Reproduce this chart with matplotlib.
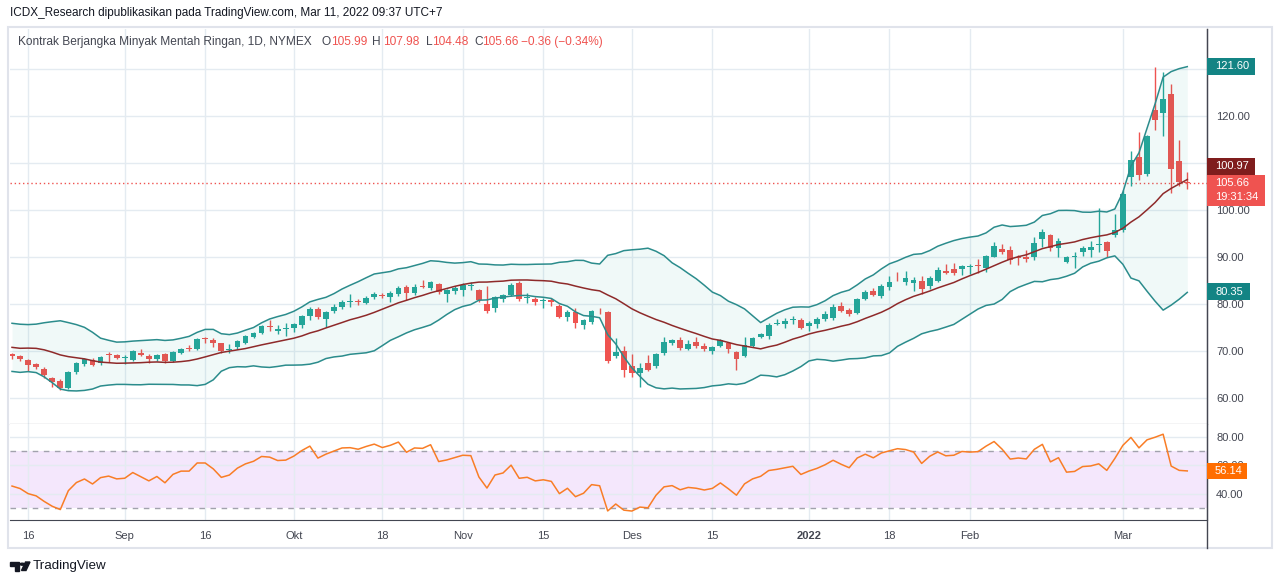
import numpy as np
import pandas as pd
import matplotlib
matplotlib.use("Agg")
import matplotlib.pyplot as plt
from matplotlib.patches import Rectangle, Polygon, Circle
from matplotlib.lines import Line2D

plt.rcParams['font.family'] = ['Liberation Sans', 'DejaVu Sans']

W, H = 1280, 584

# closes before the first visible bar (Jun 1 - Aug 11 2021), only used to seed BB(20) and RSI(14)
prior_close = [67.72, 68.83, 68.81, 69.62, 69.23, 70.05, 69.96, 70.29, 70.91, 70.88,
               72.12, 72.15, 71.04, 71.64, 73.66, 73.06, 73.08, 73.30, 74.05, 72.91,
               72.98, 73.47, 75.23, 75.16, 73.37, 72.20, 72.94, 74.56, 74.10, 75.25,
               73.13, 71.65,
               71.81, 66.42, 67.42, 70.30, 71.91, 72.07, 71.91, 71.65, 72.39, 73.62,
               73.95, 71.26, 70.56, 68.15, 69.09, 68.28, 66.48, 68.29, 69.25]

# daily bars Aug 12 2021 - Mar 11 2022 (CL1!, NYMEX)
open_ = [69.35, 68.85, 68.1, 67.2, 66.2, 64.3, 63.6, 62.1, 65.5, 67.2,
         68.1, 67.5, 69.3, 69.1, 68.45, 68.1, 69.5, 68.9, 68.2, 69.4,
         67.8, 69.6, 70.7, 70.5, 72.7, 72.3, 71.6, 70.3, 70.8, 71.8,
         73.0, 73.9, 75.4, 74.2, 74.7, 74.9, 75.5, 77.4, 78.9, 76.9,
         78.6, 79.4, 80.4, 80.6, 80.3, 81.4, 82.0, 81.4, 82.1, 83.7,
         82.4, 83.65, 83.5, 84.3, 82.1, 82.8, 83.0, 83.9, 83.0, 80.0,
         79.1, 81.0, 81.9, 84.4, 81.2, 81.0, 80.6, 80.85, 79.6, 77.3,
         78.4, 75.5, 76.2, 78.35, 78.4, 69.0, 69.9, 66.8, 65.4, 67.4,
         66.8, 69.5, 71.6, 72.3, 70.4, 71.9, 71.1, 70.0, 71.1, 71.8,
         69.8, 69.0, 71.1, 72.9, 73.1, 75.75, 75.7, 76.6, 76.6, 75.4,
         75.7, 76.8, 77.0, 79.6, 78.7, 78.1, 81.1, 82.8, 81.6, 83.55,
         85.8, 84.75, 84.4, 84.9, 83.9, 85.0, 87.0, 87.4, 87.4, 87.8,
         88.3, 87.6, 90.1, 91.7, 91.5, 89.95, 90.1, 89.9, 93.75, 94.7,
         92.0, 89.0, 90.0, 91.1, 91.5, 92.6, 93.1, 94.7, 95.7, 107.0,
         111.2, 107.7, 121.3, 120.6, 124.7, 110.4, 105.99]
high = [69.6, 69.1, 68.3, 67.5, 66.6, 64.5, 64.0, 65.8, 67.7, 68.6,
        68.5, 68.9, 69.7, 69.3, 69.1, 70.3, 70.4, 69.4, 69.4, 69.6,
        69.9, 70.7, 71.3, 72.8, 73.0, 72.7, 71.8, 71.4, 72.3, 73.5,
        74.1, 75.6, 76.6, 75.6, 75.9, 76.0, 77.7, 79.4, 79.4, 78.6,
        79.9, 80.9, 82.1, 81.0, 81.6, 82.5, 82.4, 82.8, 83.8, 84.0,
        84.2, 85.2, 84.8, 84.5, 83.2, 83.8, 84.5, 84.7, 83.2, 83.9,
        81.6, 82.2, 84.5, 84.9, 82.3, 81.4, 81.2, 81.2, 79.9, 78.7,
        79.1, 76.8, 78.8, 79.1, 78.6, 72.7, 71.1, 69.3, 67.4, 69.1,
        69.6, 73.0, 72.6, 73.0, 72.3, 73.0, 71.6, 71.1, 72.5, 72.0,
        70.0, 72.9, 73.0, 73.8, 76.0, 76.8, 77.0, 77.4, 77.1, 76.3,
        77.2, 78.5, 80.1, 80.5, 79.2, 81.3, 83.0, 83.3, 84.2, 86.0,
        86.9, 87.0, 85.7, 86.0, 86.0, 87.9, 88.6, 88.8, 88.3, 88.6,
        89.5, 90.5, 93.2, 92.8, 92.3, 90.4, 91.5, 94.2, 95.9, 95.0,
        94.0, 90.3, 91.1, 92.3, 93.3, 100.4, 93.5, 99.1, 104.2, 112.6,
        116.7, 116.0, 130.5, 129.4, 126.8, 114.9, 107.98]
low = [68.4, 67.8, 65.7, 66.2, 64.3, 62.4, 61.7, 61.9, 65.2, 66.8,
       66.8, 67.1, 67.6, 68.2, 67.3, 67.8, 68.9, 67.5, 67.9, 67.4,
       67.6, 69.3, 69.9, 70.2, 71.7, 70.9, 69.6, 69.5, 70.5, 71.5,
       72.7, 73.6, 74.3, 73.6, 73.1, 74.1, 75.0, 76.6, 76.9, 75.1,
       78.1, 78.9, 79.4, 79.8, 80.0, 81.1, 81.2, 80.4, 81.6, 80.9,
       82.0, 83.3, 83.0, 82.2, 80.5, 82.2, 81.6, 83.0, 80.4, 78.1,
       78.3, 80.5, 81.7, 80.6, 80.3, 79.8, 79.2, 79.6, 77.0, 76.4,
       75.0, 74.7, 75.8, 77.9, 67.4, 68.6, 64.4, 64.5, 62.4, 65.7,
       66.3, 69.1, 71.3, 70.2, 70.2, 70.6, 70.0, 69.4, 70.8, 69.5,
       66.0, 68.8, 70.8, 72.7, 72.5, 75.5, 75.0, 75.7, 74.7, 74.3,
       75.0, 76.4, 76.6, 78.4, 77.5, 77.8, 80.8, 81.6, 81.2, 83.0,
       84.9, 84.0, 82.8, 82.1, 83.2, 84.7, 86.3, 86.2, 86.2, 86.4,
       86.7, 86.8, 89.9, 90.6, 88.5, 88.3, 89.0, 89.4, 92.2, 91.3,
       90.1, 88.8, 87.6, 90.2, 90.0, 91.1, 90.1, 94.3, 95.3, 105.1,
       106.4, 107.2, 117.0, 115.7, 103.7, 105.2, 104.48]
close = [69.0, 68.4, 67.1, 66.5, 64.9, 63.3, 62.1, 65.6, 67.5, 68.4,
         67.1, 68.7, 69.1, 68.45, 68.6, 69.95, 69.1, 68.2, 69.15, 67.8,
         69.7, 70.5, 70.5, 72.6, 72.6, 71.6, 70.0, 70.5, 72.1, 73.2,
         73.9, 75.3, 75.2, 74.7, 74.8, 75.8, 77.4, 78.9, 77.2, 78.4,
         79.4, 80.5, 80.6, 80.4, 81.3, 82.1, 81.7, 82.4, 83.5, 82.3,
         83.6, 83.55, 84.7, 82.5, 82.9, 83.5, 84.1, 84.05, 80.9, 78.6,
         81.4, 81.9, 84.0, 81.1, 81.35, 80.5, 80.75, 80.4, 77.3, 78.4,
         75.9, 76.6, 78.5, 78.2, 67.9, 69.7, 66.0, 65.4, 66.4, 66.0,
         69.3, 71.9, 72.3, 70.7, 71.4, 71.1, 70.5, 70.9, 72.3, 70.5,
         68.3, 71.3, 72.8, 73.6, 75.5, 75.9, 76.4, 76.9, 75.0, 76.0,
         76.8, 77.9, 79.4, 78.6, 77.9, 81.1, 82.6, 81.9, 83.8, 84.7,
         85.65, 85.5, 85.1, 83.1, 85.5, 87.2, 86.5, 86.7, 88.1, 88.0,
         88.15, 90.2, 92.3, 91.1, 89.4, 89.75, 89.6, 93.0, 95.3, 91.85,
         93.5, 89.9, 90.15, 91.85, 92.06, 92.8, 91.3, 95.7, 103.3, 110.6,
         107.4, 115.7, 119.1, 123.6, 108.7, 106.0, 105.66]

holidays = ['2021-09-06', '2021-11-25', '2021-12-24', '2022-01-17', '2022-02-21']
tick_dates = ['2021-08-16', '2021-09-01', '2021-09-16', '2021-10-01', '2021-10-18',
              '2021-11-01', '2021-11-15', '2021-12-01', '2021-12-15', '2022-01-03',
              '2022-01-18', '2022-02-01', '2022-03-01']
tick_labels = ['16', 'Sep', '16', 'Okt', '18', 'Nov', '15', 'Des', '15', '2022',
               '18', 'Feb', 'Mar']

# values shown in the scale tags
bb_tags = [121.60, 100.97, 80.35]
rsi_tag = 56.14

# ---- indicators
dates = pd.bdate_range('2021-08-12', '2022-03-11')
dates = dates[~dates.isin(pd.to_datetime(holidays))]
tick_pos = [dates.get_loc(pd.Timestamp(d)) for d in tick_dates]

o, h, l, c = map(np.array, (open_, high, low, close))
n_prior = len(prior_close)
all_close = pd.Series(prior_close + close)
basis = all_close.rolling(20).mean()
dev = all_close.rolling(20).std(ddof=0)
upper = (basis + 2 * dev).values[n_prior:]
lower = (basis - 2 * dev).values[n_prior:]
basis = basis.values[n_prior:]

delta = np.diff(all_close.values)
gain = np.clip(delta, 0, None)
loss = np.clip(-delta, 0, None)
ag, al = gain[:14].mean(), loss[:14].mean()
rsi_all = np.full(len(all_close), np.nan)
rsi_all[14] = 100 - 100 / (1 + ag / al)
for k in range(14, len(delta)):
    ag = (ag * 13 + gain[k]) / 14
    al = (al * 13 + loss[k]) / 14
    rsi_all[k + 1] = 100 - 100 / (1 + ag / al)
rsi = rsi_all[n_prior:]

x = np.arange(len(c))

# ---- figure
fig = plt.figure(figsize=(W / 100, H / 100), dpi=100)


def frect(x0, y0, x1, y1):
    return [x0 / W, 1 - y1 / H, (x1 - x0) / W, (y1 - y0) / H]


grid_c = '#e4ebf1'
line_c = '#434651'
text_c = '#434651'
up_c, down_c = '#26a69a', '#ef5350'

ax = fig.add_axes(frect(10, 29, 1207, 424))
rax = fig.add_axes(frect(10, 424, 1207, 520), sharex=ax)
ax_bb = ax.twinx()

ax.set_xlim(-0.25, 148.45)
ax.set_ylim(54.47, 138.51)
ax_bb.set_ylim(56.18, 128.39)
rax.set_ylim(21.75, 89.1)

# candles
cols = np.where(c >= o, up_c, down_c)
ax.vlines(x, l, h, colors=cols, lw=1, zorder=3)
ax.bar(x, np.maximum(np.abs(c - o), 0.2), bottom=np.minimum(o, c), width=0.72,
       color=cols, lw=0, zorder=4)
ax.axhline(c[-1], color=down_c, lw=1, ls=(0, (1, 2)), zorder=2)

# bollinger bands (own overlay scale)
ax_bb.fill_between(x, lower, upper, color='#109a8c', alpha=0.06, lw=0, zorder=1)
ax_bb.plot(x, upper, color='#2b8c8c', lw=1.1, zorder=5)
ax_bb.plot(x, lower, color='#2b8c8c', lw=1.1, zorder=5)
ax_bb.plot(x, basis, color='#8e2a2a', lw=1.1, zorder=5)
ax_bb.axis('off')

# rsi
rax.axhspan(30, 70, color='#f4e7fc', lw=0, zorder=0)
for lvl in (70, 30):
    rax.axhline(lvl, color='#a2a2ad', lw=1, ls=(0, (4, 4)), zorder=1)
rax.plot(x, rsi, color='#f97d26', lw=1.1, zorder=3)

# axes styling
price_ticks = np.arange(60, 131, 10)
ax.set_yticks(price_ticks)
# the 130 level sits under the upper-band tag
ax.set_yticklabels(['%.2f' % v if v < 130 else '' for v in price_ticks])
rax.set_yticks([40, 60, 80])
rax.set_yticklabels(['40.00', '60.00', '80.00'])
rax.set_xticks(tick_pos)
rax.set_xticklabels(tick_labels)
for t in rax.get_xticklabels():
    if t.get_text() == '2022':
        t.set_fontweight('bold')

for a in (ax, rax):
    a.yaxis.tick_right()
    a.grid(True, color=grid_c, lw=1, zorder=0)
    a.set_axisbelow(True)
    a.tick_params(axis='y', length=0, pad=6.5, labelsize=8, labelcolor=text_c)
    a.tick_params(axis='x', length=0, pad=8, labelsize=8, labelcolor=text_c)
    a.spines['left'].set_visible(False)
    a.spines['top'].set_visible(False)
    a.spines['right'].set_color(line_c)
    a.spines['bottom'].set_color(line_c)
ax.tick_params(labelbottom=False)

# frame and price-scale separator
fig.add_artist(Rectangle((8 / W, 1 - 548 / H), 1264 / W, 521 / H, transform=fig.transFigure,
                         fill=False, ec='#e0e3eb', lw=1.5, zorder=1))
fig.add_artist(Line2D([1207 / W, 1207 / W], [1 - 29 / H, 1 - 548 / H], color=line_c, lw=1,
                      transform=fig.transFigure, zorder=2))


def ypix(axis, v):
    return H - axis.transData.transform((0, v))[1]


def tag(y, label, color, width, height=17, sub=None):
    top = y - height / 2
    hh = height + (14 if sub else 0)
    fig.add_artist(Rectangle((1207 / W, 1 - (top + hh) / H), width / W, hh / H,
                             transform=fig.transFigure, color=color, lw=0, zorder=5))
    fig.text(1215 / W, 1 - y / H, label, color='white', fontsize=8, va='center',
             ha='left', zorder=6)
    if sub:
        fig.text(1215 / W, 1 - (y + 14) / H, sub, color='white', fontsize=8,
                 va='center', ha='left', zorder=6)


price_y = ypix(ax, c[-1])
up_y = ypix(ax_bb, bb_tags[0])
mid_y = min(ypix(ax_bb, bb_tags[1]), price_y - 8.5 - 8.5)
low_y = ypix(ax_bb, bb_tags[2])
tag(up_y, '%.2f' % bb_tags[0], '#138484', 48)
tag(low_y, '%.2f' % bb_tags[2], '#138484', 43)
tag(mid_y, '%.2f' % bb_tags[1], '#7f1d1d', 48)
tag(price_y, '%.2f' % c[-1], '#ef5350', 58, sub='19:31:34')
tag(ypix(rax, rsi_tag), '%.2f' % rsi_tag, '#ff6d00', 40, height=16)

# header and legend
fig.text(10 / W, 1 - 13 / H, 'ICDX_Research dipublikasikan pada TradingView.com, '
         'Mar 11, 2022 09:37 UTC+7', fontsize=8.5, color='#131722', va='center')
fig.text(18 / W, 1 - 42 / H, 'Kontrak Berjangka Minyak Mentah Ringan, 1D, NYMEX',
         fontsize=8.6, color=text_c, va='center')
legend_parts = [(321, 'O', text_c), (331, '%.2f' % o[-1], down_c),
                (372, 'H', text_c), (383, '%.2f' % h[-1], down_c),
                (426, 'L', text_c), (432, '%.2f' % l[-1], down_c),
                (474, 'C', text_c), (482, '%.2f' % c[-1], down_c),
                (521, '\u22120.36 (\u22120.34%)', down_c)]
for px, s, col in legend_parts:
    fig.text(px / W, 1 - 42 / H, s, fontsize=8.6, color=col, va='center')


# TradingView mark
def P(px, py):
    return (px / W, 1 - py / H)


logo = [Polygon([P(10, 562), P(19, 562), P(19, 570.5), P(15, 570.5), P(15, 566), P(10, 566)]),
        Circle(P(22.3, 564.2), 2.2 / W),
        Polygon([P(25.5, 562), P(30, 562), P(26, 570.5), P(21.5, 570.5)])]
for p in logo:
    p.set_transform(fig.transFigure)
    p.set_color('#131722')
    fig.add_artist(p)
fig.text(33 / W, 1 - 566 / H, 'TradingView', fontsize=9.6, color='#131722', va='center')

fig.savefig('out.png', dpi=100)
